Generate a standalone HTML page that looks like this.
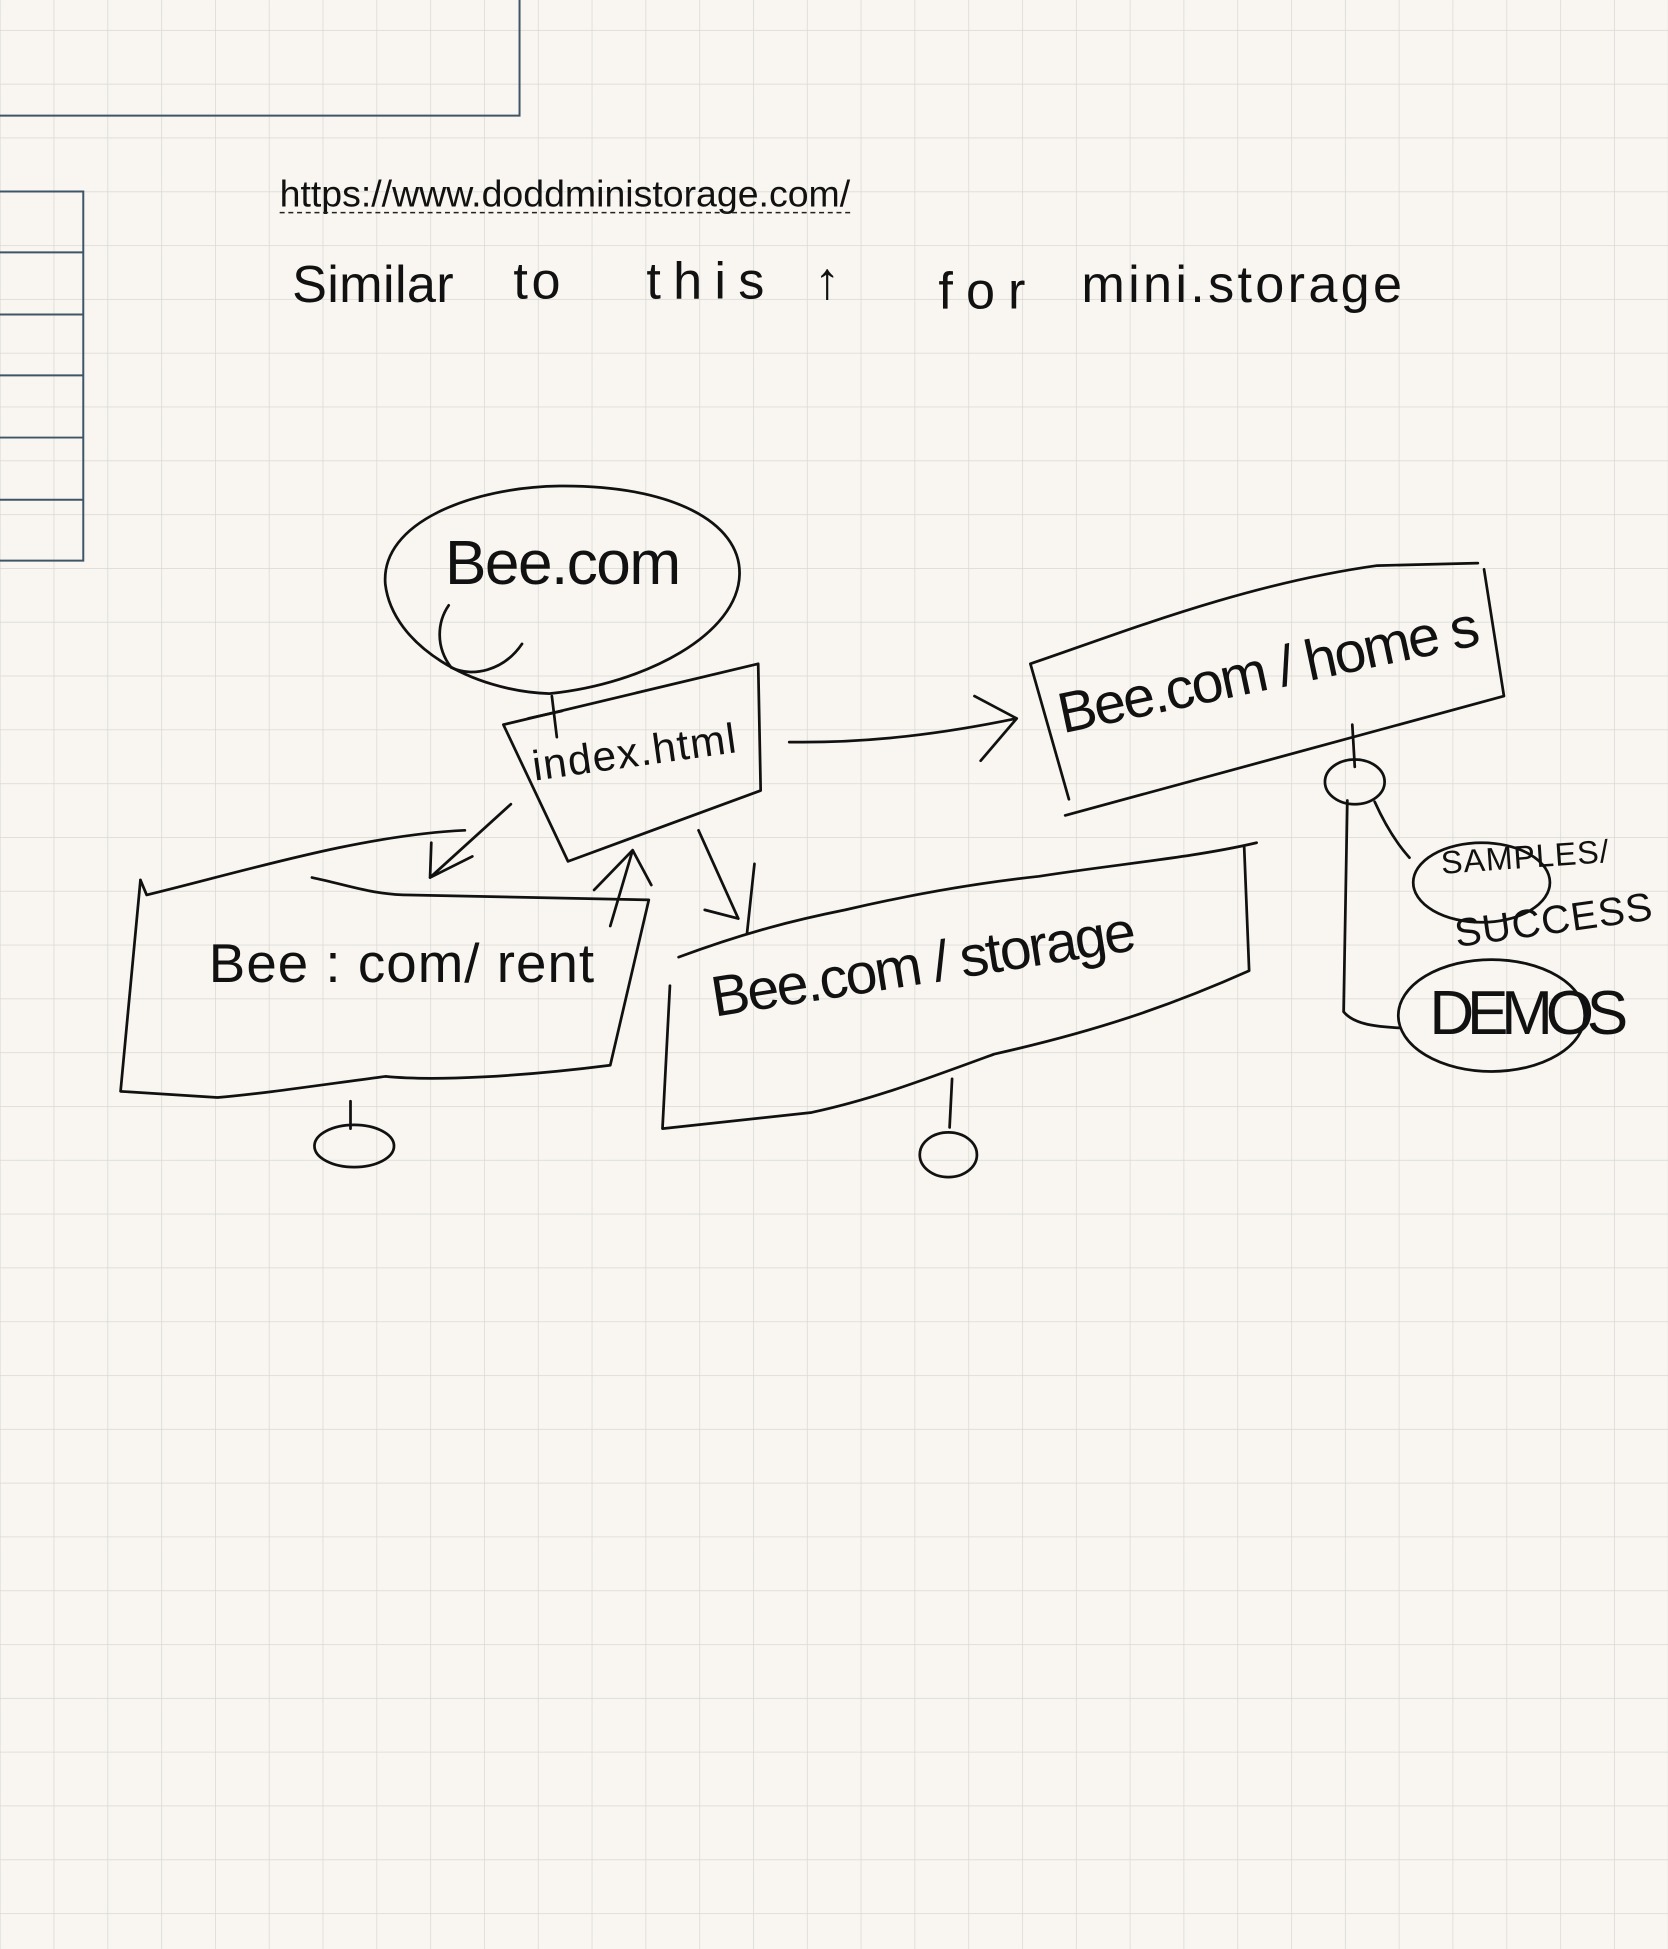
<!DOCTYPE html>
<html><head><meta charset="utf-8"><style>
html,body{margin:0;padding:0;background:#f9f6f1;}
svg{display:block;}
</style></head><body>
<svg width="1668" height="1949" viewBox="0 0 1342 1568" xmlns="http://www.w3.org/2000/svg">
<defs>
<pattern id="g" patternUnits="userSpaceOnUse" width="43.29" height="43.29" x="43.12" y="24.05">
<path d="M0 0 H43.29 M0 0 V43.29" stroke="#d8d8d3" stroke-width="1.2" fill="none"/>
</pattern>
</defs>
<rect width="1342" height="1568" fill="#f9f6f1"/>
<rect width="1342" height="1568" fill="url(#g)"/>

<g stroke="#3e5568" stroke-width="1.6" fill="none">
<path d="M-2 93 H418 V-2"/>
<path d="M-2 154 H67 V451 H-2"/>
<path d="M-2 203 H67 M-2 253 H67 M-2 302 H67 M-2 352 H67 M-2 402 H67"/>
</g>

<text x="225" y="166" font-family="Liberation Sans, Arial, sans-serif" font-size="30" fill="#111" textLength="459" lengthAdjust="spacingAndGlyphs">https://www.doddministorage.com/</text>
<line x1="225" y1="171" x2="684" y2="171" stroke="#222" stroke-width="1.2" stroke-dasharray="4 3"/>

<g font-family="Liberation Sans, Arial, sans-serif" fill="#111" font-size="42" lengthAdjust="spacingAndGlyphs">
<text x="235" y="243" textLength="130">Similar</text>
<text x="413" y="240" textLength="38">to</text>
<text x="520" y="240" textLength="95">this</text>
<text x="655" y="240" textLength="45">↑</text>
<text x="755" y="248" textLength="70">for</text>
<text x="870" y="243" textLength="258">mini.storage</text>
</g>

<g stroke="#111" stroke-width="2.2" fill="none" stroke-linecap="round" stroke-linejoin="round">
<!-- Bee.com ellipse -->
<path d="M442 558 C380 556 316 520 310 470 C306 420 380 392 450 391 C540 390 596 420 595 462 C594 510 520 550 442 558"/>
<path d="M361 487 C352 500 350 520 363 537 C380 545 405 540 420 518"/>
<!-- connector bee->index -->
<path d="M444 560 L448 593 M425 578 L452 572"/>
<!-- index box -->
<path d="M405 583 L610 534 L612 636 L457 693 L405 583"/>
<!-- arrow index->homes -->
<path d="M635 597 C700 598 760 590 818 578 M784 560 L818 578 L789 612"/>
<!-- homes box -->
<path d="M829 534 C900 510 1000 470 1108 455 L1189 453 M1194 458 L1210 560 L857 656 M829 534 L860 643"/>
<!-- arrow index->storage -->
<path d="M562 668 L594 739 M567 732 L594 739 M607 695 L601 751"/>
<!-- storage box -->
<path d="M546 770 C600 750 640 740 680 732 C740 718 790 710 836 705 C900 695 960 690 1011 678 M1001 681 L1005 781 C940 810 880 830 800 848 C740 870 700 885 653 895 L533 908 L539 793"/>
<!-- arrow index->rent -->
<path d="M411 647 L346 706 M347 678 L346 706 L380 689"/>
<!-- arrow rent->index -->
<path d="M491 745 L509 684 M478 716 L509 684 L524 712"/>
<!-- rent box -->
<path d="M113 708 L118 720 C200 700 290 672 374 668"/>
<path d="M251 706 C280 712 300 720 330 720 L522 724 L491 857 C420 866 350 870 310 866 C250 874 210 880 175 883 L97 878 L113 708"/>
<!-- rent circle -->
<path d="M282 886 L282 908"/>
<ellipse cx="285" cy="922" rx="32" ry="17"/>
<!-- storage circle -->
<path d="M766 868 L764 907"/>
<ellipse cx="763" cy="929" rx="23" ry="18"/>
<!-- homes subtree -->
<path d="M1088 583 L1090 617"/>
<ellipse cx="1090" cy="629" rx="24" ry="18"/>
<path d="M1084 644 L1081 814 C1090 825 1110 826 1126 827"/>
<path d="M1106 645 C1115 665 1125 680 1134 690"/>
<ellipse cx="1192" cy="710" rx="55" ry="32"/>
<ellipse cx="1200" cy="817" rx="75" ry="45"/>
</g>

<g font-family="Liberation Sans, Arial, sans-serif" fill="#111" lengthAdjust="spacingAndGlyphs">
<text x="358" y="470" font-size="50" textLength="190">Bee.com</text>
<text x="0" y="0" font-size="34" textLength="165" transform="translate(430 628) rotate(-8)">index.html</text>
<text x="0" y="0" font-size="46" textLength="345" transform="translate(855 590) rotate(-12)">Bee.com / home s</text>
<text x="0" y="0" font-size="46" textLength="345" transform="translate(575 818) rotate(-9)">Bee.com / storage</text>
<text x="168" y="790" font-size="44" textLength="310">Bee : com/ rent</text>
<text x="1160" y="703" font-size="26" textLength="135" transform="rotate(-4 1160 703)">SAMPLES/</text>
<text x="1172" y="762" font-size="32" textLength="160" transform="rotate(-8 1172 762)">SUCCESS</text>
<text x="1150" y="832" font-size="50" textLength="160">DEMOS</text>
</g>
</svg>
</body></html>
